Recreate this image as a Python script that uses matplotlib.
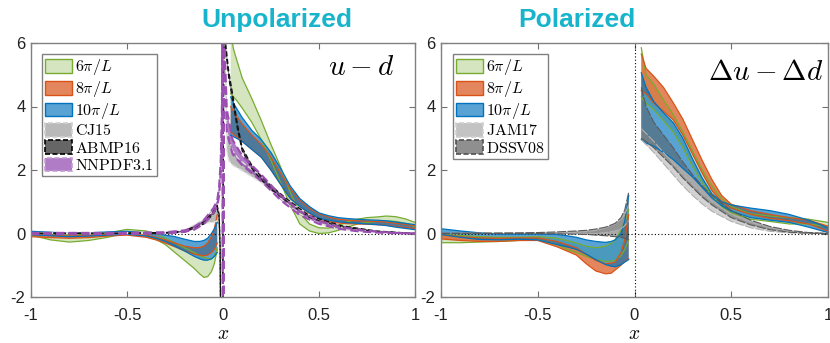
import numpy as np
import matplotlib
matplotlib.use("Agg")
import matplotlib.pyplot as plt
from matplotlib.patches import Patch

plt.rcParams["mathtext.fontset"] = "cm"
plt.rcParams["font.family"] = ["Liberation Sans", "DejaVu Sans"]
plt.rcParams["axes.unicode_minus"] = False

# ---------------- unpolarized u - d ----------------
# lattice bands, x < 0 side
xl_neg = [-1.0, -0.9, -0.8, -0.7, -0.6, -0.5, -0.4, -0.35, -0.3, -0.25, -0.2, -0.15, -0.12, -0.1, -0.08, -0.06, -0.045, -0.03]
u6_neg_lo = [-0.05, -0.2, -0.27, -0.22, -0.12, 0.02, -0.05, -0.18, -0.35, -0.6, -0.85, -1.1, -1.28, -1.38, -1.36, -1.2, -0.95, -0.5]
u6_neg_hi = [0.05, 0.0, -0.05, -0.02, 0.02, 0.13, 0.08, -0.02, -0.15, -0.3, -0.45, -0.6, -0.7, -0.75, -0.78, -0.8, -0.7, -0.45]
u8_neg_lo = [-0.1, -0.13, -0.15, -0.13, -0.08, -0.05, -0.12, -0.2, -0.3, -0.42, -0.55, -0.65, -0.68, -0.7, -0.68, -0.6, -0.5, -0.3]
u8_neg_hi = [-0.03, -0.06, -0.08, -0.06, -0.02, 0.0, -0.05, -0.12, -0.2, -0.3, -0.4, -0.45, -0.44, -0.4, -0.3, -0.1, 0.15, 0.6]
u10_neg_lo = [-0.04, -0.07, -0.1, -0.08, -0.05, -0.02, -0.08, -0.15, -0.25, -0.4, -0.55, -0.72, -0.8, -0.84, -0.84, -0.8, -0.72, -0.6]
u10_neg_hi = [0.07, 0.04, 0.01, 0.02, 0.05, 0.07, 0.02, -0.01, -0.05, -0.1, -0.18, -0.25, -0.25, -0.22, -0.15, 0.0, 0.15, 0.35]

# lattice bands, x > 0 side
xl_pos = [0.04, 0.055, 0.07, 0.1, 0.15, 0.2, 0.25, 0.3, 0.35, 0.4, 0.45, 0.5, 0.55, 0.6, 0.65, 0.7, 0.75, 0.8, 0.85, 0.9, 0.95, 1.0]
u6_pos_lo = [4.4, 4.3, 4.2, 3.95, 3.5, 2.95, 2.3, 1.6, 0.9, 0.3, 0.08, 0.0, 0.02, 0.1, 0.2, 0.3, 0.35, 0.38, 0.4, 0.38, 0.32, 0.22]
u6_pos_hi = [6.3, 5.8, 5.5, 4.9, 4.25, 3.55, 2.8, 2.1, 1.3, 0.65, 0.3, 0.18, 0.17, 0.25, 0.37, 0.45, 0.5, 0.52, 0.55, 0.53, 0.46, 0.35]
u8_pos_lo = [3.2, 3.12, 3.05, 2.9, 2.65, 2.4, 2.0, 1.55, 1.12, 0.85, 0.62, 0.45, 0.38, 0.33, 0.31, 0.3, 0.29, 0.28, 0.26, 0.22, 0.19, 0.16]
u8_pos_hi = [4.0, 3.85, 3.7, 3.45, 3.1, 2.8, 2.4, 1.9, 1.42, 1.05, 0.8, 0.62, 0.52, 0.45, 0.42, 0.4, 0.39, 0.38, 0.36, 0.32, 0.29, 0.25]
u10_pos_lo = [3.1, 3.05, 3.0, 2.9, 2.65, 2.4, 2.0, 1.55, 1.1, 0.85, 0.65, 0.48, 0.42, 0.37, 0.34, 0.32, 0.3, 0.28, 0.25, 0.2, 0.16, 0.12]
u10_pos_hi = [4.3, 4.1, 3.95, 3.65, 3.25, 2.95, 2.55, 2.05, 1.5, 1.1, 0.85, 0.65, 0.56, 0.5, 0.47, 0.45, 0.43, 0.42, 0.4, 0.36, 0.32, 0.28]

# global fits
x_cj = [-1.0, -0.6, -0.3, -0.2, -0.1, -0.07, -0.05, -0.03, -0.02, -0.01, 0.003, 0.02, 0.03, 0.05, 0.08, 0.12, 0.2, 0.3, 0.4, 0.5, 0.6, 0.7, 0.8, 0.9, 1.0]
cj_lo = [0.0, 0.0, 0.0, 0.05, 0.3, 0.35, 0.35, 0.4, 0.0, -3.0, 9.0, 2.6, 2.3, 2.15, 2.05, 1.9, 1.6, 1.1, 0.62, 0.32, 0.15, 0.07, 0.03, 0.01, 0.0]
cj_hi = [0.02, 0.02, 0.03, 0.1, 0.45, 0.6, 0.7, 0.8, 0.7, -3.0, 9.0, 3.2, 3.0, 2.6, 2.35, 2.15, 1.8, 1.25, 0.75, 0.42, 0.22, 0.11, 0.05, 0.02, 0.0]

x_abmp = [-1.0, -0.6, -0.3, -0.2, -0.1, -0.05, -0.03, -0.02, -0.015, -0.006, 0.006, 0.01, 0.03, 0.05, 0.075, 0.1, 0.15, 0.19, 0.25, 0.33, 0.45, 0.62, 0.8, 1.0]
abmp_lo = [0.0, 0.0, 0.01, 0.05, 0.3, 0.62, 0.8, 0.5, -0.5, -9.0, 9.0, 6.0, 4.9, 4.2, 3.3, 2.6, 2.05, 1.75, 1.4, 1.02, 0.5, 0.2, 0.06, 0.0]
abmp_hi = [0.01, 0.01, 0.03, 0.08, 0.36, 0.7, 0.88, 0.6, -0.4, -9.0, 9.0, 6.2, 5.1, 4.4, 3.45, 2.7, 2.15, 1.85, 1.5, 1.1, 0.56, 0.24, 0.08, 0.0]

x_nn = [-1.0, -0.6, -0.3, -0.2, -0.15, -0.1, -0.07, -0.05, -0.03, -0.02, -0.012, -0.006, -0.002, 0.0, 0.003, 0.005, 0.01, 0.02, 0.05, 0.1, 0.2, 0.3, 0.4, 0.5, 0.6, 0.7, 0.8, 0.9, 1.0]
nn_lo = [-0.02, -0.02, 0.0, 0.05, 0.12, 0.3, 0.5, 0.65, 0.85, 1.2, 1.9, 3.2, 6.5, -9.0, -9.0, 8.0, 5.0, 3.2, 2.5, 2.15, 1.65, 1.05, 0.58, 0.3, 0.15, 0.07, 0.03, 0.01, 0.0]
nn_hi = [0.02, 0.02, 0.04, 0.1, 0.2, 0.42, 0.65, 0.8, 1.05, 1.5, 2.3, 3.8, 8.0, -9.0, -9.0, 9.0, 5.6, 3.9, 2.95, 2.45, 1.85, 1.2, 0.7, 0.4, 0.22, 0.12, 0.06, 0.02, 0.0]

# ---------------- polarized Δu - Δd ----------------
xp_neg = [-1.0, -0.9, -0.8, -0.7, -0.6, -0.5, -0.4, -0.35, -0.3, -0.25, -0.2, -0.15, -0.12, -0.1, -0.07, -0.05, -0.03]
p6_neg_lo = [-0.29, -0.29, -0.27, -0.25, -0.22, -0.2, -0.35, -0.5, -0.6, -0.72, -0.82, -0.88, -0.87, -0.85, -0.7, -0.5, -0.2]
p6_neg_hi = [-0.03, -0.06, -0.1, -0.12, -0.12, -0.1, -0.15, -0.22, -0.3, -0.4, -0.45, -0.4, -0.3, -0.2, 0.1, 0.4, 0.75]
p8_neg_lo = [-0.17, -0.22, -0.25, -0.25, -0.22, -0.22, -0.42, -0.55, -0.68, -0.95, -1.18, -1.27, -1.25, -1.15, -1.0, -0.88, -0.8]
p8_neg_hi = [-0.03, -0.1, -0.14, -0.15, -0.14, -0.14, -0.25, -0.35, -0.45, -0.65, -0.85, -0.95, -0.93, -0.9, -0.6, -0.2, 0.6]
p10_neg_lo = [-0.03, -0.12, -0.19, -0.2, -0.18, -0.2, -0.35, -0.42, -0.5, -0.65, -0.82, -0.98, -1.03, -1.05, -0.98, -0.9, -0.82]
p10_neg_hi = [0.15, 0.08, 0.02, -0.02, -0.02, -0.02, -0.03, -0.07, -0.12, -0.2, -0.25, -0.28, -0.25, -0.2, 0.0, 0.4, 1.2]

xp_pos = [0.035, 0.06, 0.1, 0.15, 0.2, 0.25, 0.3, 0.35, 0.4, 0.45, 0.5, 0.6, 0.7, 0.8, 0.9, 1.0]
p6_pos_lo = [4.3, 4.1, 3.9, 3.55, 3.2, 2.7, 2.1, 1.6, 1.2, 0.85, 0.65, 0.45, 0.38, 0.3, 0.3, 0.22]
p6_pos_hi = [5.85, 5.0, 4.7, 4.2, 3.75, 3.2, 2.6, 2.0, 1.5, 1.1, 0.85, 0.62, 0.55, 0.5, 0.45, 0.35]
p8_pos_lo = [4.5, 4.4, 4.1, 3.85, 3.58, 3.1, 2.5, 1.9, 1.35, 1.0, 0.8, 0.6, 0.48, 0.4, 0.3, 0.07]
p8_pos_hi = [5.65, 5.2, 4.95, 4.6, 4.12, 3.6, 2.95, 2.3, 1.7, 1.2, 0.92, 0.72, 0.6, 0.5, 0.42, 0.23]
p10_pos_lo = [2.96, 2.85, 2.75, 2.55, 2.33, 2.05, 1.78, 1.45, 1.12, 0.88, 0.7, 0.5, 0.42, 0.35, 0.2, 0.03]
p10_pos_hi = [5.06, 4.6, 4.15, 3.8, 3.49, 3.0, 2.35, 1.75, 1.25, 1.0, 0.9, 0.8, 0.72, 0.6, 0.42, 0.18]

x_fit_neg = [-1.0, -0.8, -0.6, -0.5, -0.4, -0.3, -0.25, -0.2, -0.15, -0.1, -0.07, -0.05, -0.03]
jam_neg_lo = [0.0, 0.0, 0.0, 0.0, 0.0, 0.0, 0.0, 0.0, 0.03, 0.08, 0.15, 0.25, 0.4]
jam_neg_hi = [0.01, 0.01, 0.01, 0.02, 0.02, 0.04, 0.06, 0.1, 0.18, 0.3, 0.45, 0.6, 0.9]
dssv_neg_lo = [0.0, 0.0, 0.0, 0.0, -0.01, -0.02, -0.03, -0.05, -0.07, -0.1, -0.12, -0.15, -0.2]
dssv_neg_hi = [0.01, 0.01, 0.02, 0.03, 0.05, 0.08, 0.1, 0.14, 0.2, 0.32, 0.5, 0.75, 1.3]

x_fit_pos = [0.035, 0.06, 0.1, 0.15, 0.2, 0.25, 0.3, 0.35, 0.4, 0.5, 0.6, 0.7, 0.8, 0.9, 1.0]
jam_pos_lo = [2.95, 2.8, 2.55, 2.2, 1.85, 1.5, 1.2, 0.93, 0.7, 0.38, 0.18, 0.07, 0.02, 0.0, 0.0]
jam_pos_hi = [3.3, 3.15, 2.9, 2.55, 2.2, 1.85, 1.55, 1.25, 1.0, 0.6, 0.35, 0.18, 0.07, 0.02, 0.0]
dssv_pos_lo = [3.0, 2.9, 2.7, 2.4, 2.1, 1.75, 1.45, 1.15, 0.9, 0.5, 0.27, 0.12, 0.04, 0.01, 0.0]
dssv_pos_hi = [4.6, 4.0, 3.5, 3.1, 2.7, 2.25, 1.85, 1.5, 1.2, 0.72, 0.42, 0.22, 0.1, 0.03, 0.0]

# colours
GREEN = (0.466, 0.674, 0.188)
ORANGE = (0.850, 0.325, 0.098)
BLUE = (0.000, 0.447, 0.741)
lattice_styles = {
    "6": dict(color=GREEN, alpha=0.3, label=r"$6\pi/L$"),
    "8": dict(color=ORANGE, alpha=0.7, label=r"$8\pi/L$"),
    "10": dict(color=BLUE, alpha=0.65, label=r"$10\pi/L$"),
}


def lattice_band(ax, x, lo, hi, key):
    st = lattice_styles[key]
    ax.fill_between(x, lo, hi, facecolor=st["color"], alpha=st["alpha"], linewidth=0)
    ax.plot(x, lo, color=st["color"], lw=0.9)
    ax.plot(x, hi, color=st["color"], lw=0.9)


def fit_band(ax, x, lo, hi, face, edge, alpha, lw=1.0, dash=(0, (4, 2))):
    ax.fill_between(x, lo, hi, facecolor=face, alpha=alpha, linewidth=0)
    for y in (lo, hi):
        ax.plot(x, y, color=edge, lw=lw, ls=dash)


fig = plt.figure(figsize=(8.3, 3.43), dpi=100)
ax1 = fig.add_axes([31 / 830, 46 / 343, 384 / 830, 254 / 343])
ax2 = fig.add_axes([441 / 830, 46 / 343, 387 / 830, 254 / 343])

# left panel
ax1.axhline(0, color="black", lw=0.8, ls=(0, (1, 2)))
lattice_band(ax1, xl_neg, u6_neg_lo, u6_neg_hi, "6")
lattice_band(ax1, xl_pos, u6_pos_lo, u6_pos_hi, "6")
lattice_band(ax1, xl_neg, u8_neg_lo, u8_neg_hi, "8")
lattice_band(ax1, xl_pos, u8_pos_lo, u8_pos_hi, "8")
lattice_band(ax1, xl_neg, u10_neg_lo, u10_neg_hi, "10")
lattice_band(ax1, xl_pos, u10_pos_lo, u10_pos_hi, "10")
fit_band(ax1, x_cj, cj_lo, cj_hi, "#a8a8a8", "#e0e0e0", 0.8)
fit_band(ax1, x_abmp, abmp_lo, abmp_hi, "#404040", "#111111", 0.8, lw=0.9)
fit_band(ax1, x_nn, nn_lo, nn_hi, "#8e44ad", "#9b4fb0", 0.7, lw=1.5)

# right panel
ax2.axhline(0, color="black", lw=0.8, ls=(0, (1, 2)))
ax2.axvline(0, color="black", lw=0.8, ls=(0, (1, 2)))
lattice_band(ax2, xp_neg, p6_neg_lo, p6_neg_hi, "6")
lattice_band(ax2, xp_pos, p6_pos_lo, p6_pos_hi, "6")
lattice_band(ax2, xp_neg, p8_neg_lo, p8_neg_hi, "8")
lattice_band(ax2, xp_pos, p8_pos_lo, p8_pos_hi, "8")
lattice_band(ax2, xp_neg, p10_neg_lo, p10_neg_hi, "10")
lattice_band(ax2, xp_pos, p10_pos_lo, p10_pos_hi, "10")
for xs, lo, hi in ((x_fit_neg, jam_neg_lo, jam_neg_hi), (x_fit_pos, jam_pos_lo, jam_pos_hi)):
    fit_band(ax2, xs, lo, hi, "#b5b5b5", "#b0b0b0", 0.6, lw=0.8, dash=(0, (8, 1.5)))
for xs, lo, hi in ((x_fit_neg, dssv_neg_lo, dssv_neg_hi), (x_fit_pos, dssv_pos_lo, dssv_pos_hi)):
    fit_band(ax2, xs, lo, hi, "#555555", "#5a5a5a", 0.5, lw=0.8, dash=(0, (8, 1.5)))

xt = [-1, -0.5, 0, 0.5, 1]
xt_labels = ["-1", "-0.5", "0", "0.5", "1"]
yt = [-2, 0, 2, 4, 6]
yt_labels = ["-2", "0", "2", "4", "6"]
for ax in (ax1, ax2):
    ax.set_xlim(-1, 1)
    ax.set_ylim(-2, 6)
    ax.set_xticks(xt, xt_labels)
    ax.set_yticks(yt, yt_labels)
    ax.tick_params(direction="in", top=True, right=True, length=4, width=0.8,
                   color="#707070", labelsize=12, labelcolor="#222222")
    ax.tick_params(axis="x", pad=8)
    ax.tick_params(axis="y", pad=4)
    for s in ax.spines.values():
        s.set_color("#808080")
        s.set_linewidth(1.0)
    ax.set_xlabel(r"$x$", fontsize=14, labelpad=2)

ax1.text(0.72, 5.25, r"$u-d$", fontsize=21, ha="center", va="center")
ax2.text(0.68, 5.1, r"$\Delta u-\Delta d$", fontsize=21, ha="center", va="center")

fig.text(277 / 830, 1 - 27.3 / 343, "Unpolarized", ha="center", va="baseline",
         fontsize=19, fontweight="bold", color="#17b4cc")
fig.text(577 / 830, 1 - 27.3 / 343, "Polarized", ha="center", va="baseline",
         fontsize=19, fontweight="bold", color="#17b4cc")


def lat_handle(key):
    st = lattice_styles[key]
    c = st["color"]
    return Patch(facecolor=(*c, st["alpha"]), edgecolor=c, lw=1.0, label=st["label"])


def fit_handle(face, edge, alpha, label):
    fc = matplotlib.colors.to_rgb(face)
    return Patch(facecolor=(*fc, alpha), edgecolor=edge, lw=1.2, ls=(0, (3, 1.5)), label=label)


h1 = [lat_handle("6"), lat_handle("8"), lat_handle("10"),
      fit_handle("#a8a8a8", "#d0d0d0", 0.8, r"$\mathrm{CJ15}$"),
      fit_handle("#404040", "black", 0.8, r"$\mathrm{ABMP16}$"),
      fit_handle("#8e44ad", "#c49bd6", 0.7, r"$\mathrm{NNPDF3.1}$")]
h2 = [lat_handle("6"), lat_handle("8"), lat_handle("10"),
      fit_handle("#b5b5b5", "#d0d0d0", 0.8, r"$\mathrm{JAM17}$"),
      fit_handle("#606060", "#505050", 0.7, r"$\mathrm{DSSV08}$")]

leg_kw = dict(loc="upper left", fontsize=11.5, handlelength=1.7, handleheight=0.95,
              handletextpad=0.15, labelspacing=0.12, borderpad=0.2, borderaxespad=0,
              fancybox=False, framealpha=1, edgecolor="#808080")
l1 = ax1.legend(handles=h1, bbox_to_anchor=(11 / 384, 243 / 254), **leg_kw)
l2 = ax2.legend(handles=h2, bbox_to_anchor=(12 / 387, 243 / 254), **leg_kw)
for lg in (l1, l2):
    lg.get_frame().set_linewidth(1.0)

fig.savefig("out.png", dpi=100)
